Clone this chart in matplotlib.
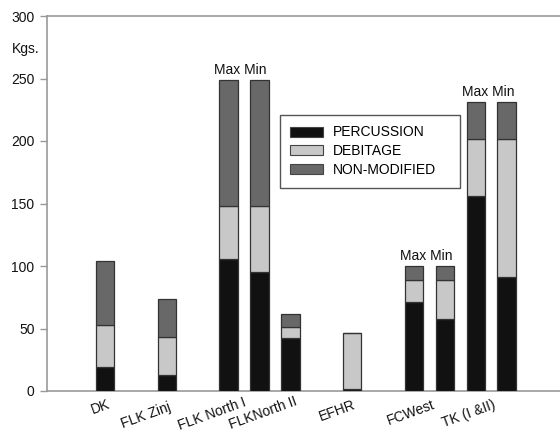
import matplotlib
matplotlib.use("Agg")
import matplotlib.pyplot as plt
from matplotlib.patches import Patch

plt.rcParams['font.family'] = ['Liberation Sans', 'DejaVu Sans']

# ---- data ----
bar_names = ["DK", "FLK Zinj", "FLK North I Max", "FLK North I Min", "FLKNorth II",
             "EFHR", "FCWest Max", "FCWest Min", "TK Max", "TK Min"]
percussion = [19, 13, 106, 95, 42.5, 1.5, 71.5, 58, 156, 91]
debitage = [34, 30.5, 42, 53, 8.5, 45, 17.5, 31, 46, 111]
non_modified = [51, 30.5, 101, 101, 11, 0, 11, 11, 29, 29]
series_names = ["PERCUSSION", "DEBITAGE", "NON-MODIFIED"]

site_labels = ["DK", "FLK Zinj", "FLK North I", "FLKNorth II", "EFHR", "FCWest", "TK (I &II)"]
yticks = [0, 50, 100, 150, 200, 250, 300]

# ---- layout ----
bar_slots = [0, 2, 4, 5, 6, 8, 10, 11, 12, 13]
label_px = [(112, 397), (173, 400), (248, 395), (299, 394), (357, 398), (437, 398), (497, 398)]
maxmin_pairs = [(2, 3), (6, 7), (8, 9)]
colors = ["#111111", "#c8c8c8", "#686868"]

W, H = 560, 432
fig = plt.figure(figsize=(W / 100, H / 100), dpi=100)
ax_left, ax_right, ax_top, ax_bot = 47, 560, 16, 391
ax = fig.add_axes([ax_left / W, 1 - ax_bot / H, (ax_right - ax_left) / W, (ax_bot - ax_top) / H])

x0_px, step_px = 105, 30.9
ax.set_xlim((ax_left - x0_px) / step_px, (ax_right - x0_px) / step_px)
ax.set_ylim(0, 300)

bottom = [0] * len(bar_names)
for vals, col in zip([percussion, debitage, non_modified], colors):
    ax.bar(bar_slots, vals, width=0.6, bottom=bottom, color=col,
           edgecolor="#333333", linewidth=0.9, zorder=3)
    bottom = [b + v for b, v in zip(bottom, vals)]
totals = bottom

# spines / ticks
for s in ["left", "bottom", "top"]:
    ax.spines[s].set_color("#999999")
    ax.spines[s].set_linewidth(1.2)
ax.spines["right"].set_visible(False)
ax.set_yticks(yticks)
ax.set_yticklabels([str(t) for t in yticks], fontsize=10, color="#111111")
ax.tick_params(axis="y", direction="out", length=5, width=1, color="#999999", pad=4)
ax.set_xticks([])

# x labels (rotated)
for name, (px, py) in zip(site_labels, label_px):
    fig.text(px / W, 1 - py / H, name, rotation=20, ha="right", va="top",
             fontsize=10, color="#111111", rotation_mode="default")

# Max / Min annotations
for a, b in maxmin_pairs:
    xm = (bar_slots[a] + bar_slots[b]) / 2
    ax.annotate("Max Min", xy=(xm, totals[a]), xytext=(-2.5, 4.3),
                textcoords="offset points", ha="center", va="baseline",
                fontsize=10, color="#111111")

fig.text(26 / W, 1 - 49 / H, "Kgs.", ha="center", va="center", fontsize=10, color="#111111")

handles = [Patch(facecolor=c, edgecolor="#444444", linewidth=0.8) for c in colors]
leg = ax.legend(handles, series_names, loc="upper left",
                bbox_to_anchor=(280 / W, 1 - 190 / H, 180 / W, 75 / H),
                bbox_transform=fig.transFigure, mode="expand",
                fontsize=10, handlelength=2.37, handleheight=0.72,
                handletextpad=0.7, labelspacing=0.35, borderpad=0.75,
                borderaxespad=0, fancybox=False, framealpha=1, edgecolor="#555555")
leg.get_frame().set_linewidth(1.0)

fig.savefig("out.png", dpi=100)
